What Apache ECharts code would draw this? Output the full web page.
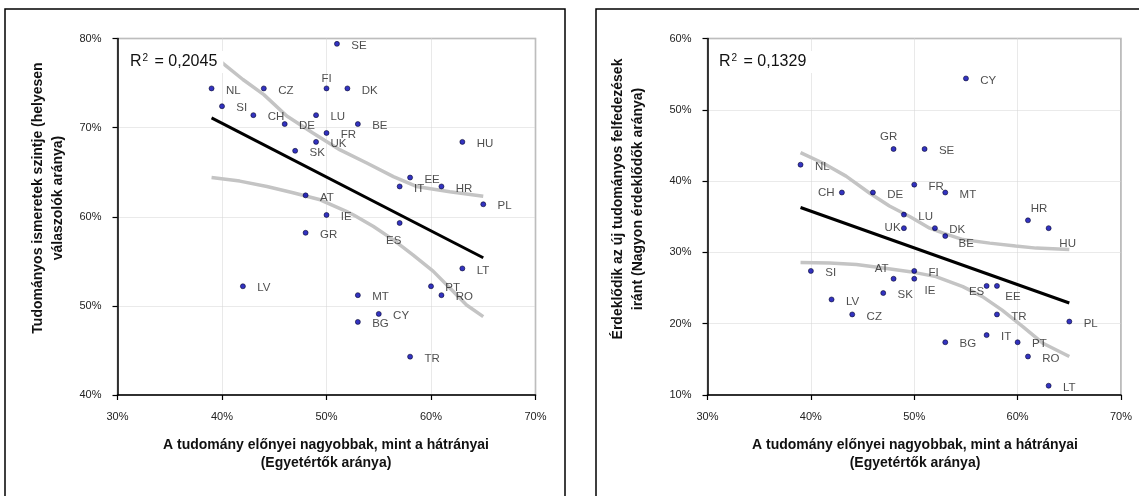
<!DOCTYPE html>
<html>
<head>
<meta charset="utf-8">
<script src="https://cdn.jsdelivr.net/npm/echarts@6/dist/echarts.min.js"></script>
<style>
html,body{margin:0;padding:0;background:#fff;}
#chart{width:1139px;height:496px;}
</style>
</head>
<body>
<div id="chart"></div>
<script>
// ---- data ----
const countries = ['SE','NL','CZ','FI','DK','SI','CH','LU','DE','BE','FR','UK','HU','SK','EE','IT','HR','PL','AT','IE','ES','GR','LT','LV','PT','MT','RO','CY','BG','TR'];
const benefits  = [51,39,44,50,52,40,43,49,46,53,50,49,63,47,58,57,61,65,48,50,57,48,63,42,60,53,61,55,53,58];
const knowledge = [79.4,74.4,74.4,74.4,74.4,72.4,71.4,71.4,70.4,70.4,69.4,68.4,68.4,67.4,64.4,63.4,63.4,61.4,62.4,60.2,59.3,58.2,54.2,52.2,52.2,51.2,51.2,49.1,48.2,44.3];
const interest  = [44.5,42.3,21.3,27.4,33.4,27.4,38.4,35.3,38.4,32.3,39.5,33.4,33.4,24.3,25.3,18.4,34.5,20.3,26.3,26.3,25.3,44.5,11.3,23.4,17.4,38.4,15.4,54.4,17.4,21.3];

const trendLeft  = [[39,71.1],[65,55.4]];
const upperLeft  = [[39,78.1],[40,77.3],[42,75.4],[44,73.7],[46.2,71.3],[48.7,69.4],[51.3,67.5],[53.9,66.0],[56.4,64.5],[58.6,63.4],[61.8,62.8],[65,62.3]];
const lowerLeft  = [[39,64.4],[41.7,64.0],[44.3,63.4],[46.8,62.7],[49.4,61.9],[51.9,60.6],[52.6,60.2],[54.5,58.9],[56.4,57.4],[58.3,55.7],[60.2,53.9],[61.8,52.0],[63.4,50.1],[65,48.8]];

const trendRight = [[39,36.3],[65,22.9]];
const upperRight = [[39,44.0],[41.2,42.5],[43.4,40.7],[45.7,38.3],[47.6,36.5],[49.6,35.0],[51.5,33.4],[52.8,32.7],[54.7,31.8],[57.3,31.3],[59.8,30.9],[61.8,30.6],[65,30.4]];
const lowerRight = [[39,28.6],[41.8,28.5],[44.4,28.3],[47,27.8],[49.6,27.3],[52.1,26.6],[54.7,25.2],[56.6,23.8],[58.5,21.9],[60.5,19.6],[62.4,17.3],[65,15.4]];

const r2Left = '0,2045';
const r2Right = '0,1329';
const xTitle = 'A tudomány előnyei nagyobbak, mint a hátrányai\n(Egyetértők aránya)';
const yTitleLeft = 'Tudományos ismeretek szintje (helyesen\nválaszolók aránya)';
const yTitleRight = 'Érdeklődik az új tudományos felfedezések\niránt (Nagyon érdeklődők aránya)';

// ---- label placement styles (not data) ----
const labelStyleLeft = { FI:['c',0,-10], ES:['c',-6,18] };
const labelStyleRight = {
  GR:['c',-5,-12], CH:['l',-7,0], HR:['c',11,-11], HU:['c',19,16], UK:['l',-3,0],
  BE:['r',13,8], AT:['c',-12,-10], IE:['r',10,12], ES:['l',-2,6], EE:['r',8,11]
};

const FONT = '"Liberation Sans", Arial, sans-serif';

function buildScatter(yvals, styles) {
  return countries.map((c, i) => {
    const s = styles[c] || ['r',14,2];
    let label;
    if (s[0] === 'r') label = {position:'right', distance:0, offset:[s[1]-2.5, s[2]]};
    else if (s[0] === 'l') label = {position:'left', distance:0, offset:[s[1]+2.5, s[2]]};
    else label = {position:'inside', offset:[s[1], s[2]], align:'center', verticalAlign:'middle'};
    return { value:[benefits[i], yvals[i]], name:c, label: label };
  });
}

const chart = echarts.init(document.getElementById('chart'));

function xAxisDef(gi) {
  return {
    type:'value', gridIndex:gi, min:30, max:70, interval:10,
    axisLine:{show:true, lineStyle:{color:'#000', width:1.5}},
    axisTick:{show:true, inside:false, length:5, lineStyle:{color:'#000', width:1.2}},
    axisLabel:{formatter:'{value}%', fontFamily:FONT, fontSize:11, color:'#222', margin:16},
    splitLine:{show:true, lineStyle:{color:'#d4d4d4', type:'dotted', width:1}}
  };
}
function yAxisDef(gi, mn, mx) {
  return {
    type:'value', gridIndex:gi, min:mn, max:mx, interval:10,
    axisLine:{show:true, lineStyle:{color:'#000', width:1.5}},
    axisTick:{show:true, inside:false, length:5, lineStyle:{color:'#000', width:1.2}},
    axisLabel:{formatter:'{value}%', fontFamily:FONT, fontSize:11, color:'#222', margin:16},
    splitLine:{show:true, lineStyle:{color:'#d4d4d4', type:'dotted', width:1}}
  };
}
function lineSeries(data, gi, color, z, w) {
  return {type:'line', xAxisIndex:gi, yAxisIndex:gi, data:data, showSymbol:false, symbol:'none',
    lineStyle:{color:color, width:w}, z:z, silent:true};
}
function scatterSeries(data, gi) {
  return {type:'scatter', xAxisIndex:gi, yAxisIndex:gi, data:data, symbol:'circle', symbolSize:5,
    itemStyle:{color:'#0000b0', borderColor:'#000022', borderWidth:0.7}, z:10,
    label:{show:true, formatter:'{b}', fontFamily:FONT, fontSize:11.5, color:'#222'}};
}

const r2Rich = {a:{fontFamily:FONT, fontSize:16, fill:'#111'}, s:{fontFamily:FONT, fontSize:10, fill:'#111', verticalAlign:'top', padding:[0,2,8,1]}};

const option = {
  animation:false,
  backgroundColor:'#fff',
  grid:[
    {left:117.5, top:38.5, width:418, height:356.5, show:true, borderColor:'#a6a6a6', borderWidth:1.5, backgroundColor:'#fff'},
    {left:707.5, top:38.5, width:413.5, height:356.5, show:true, borderColor:'#a6a6a6', borderWidth:1.5, backgroundColor:'#fff'}
  ],
  xAxis:[xAxisDef(0), xAxisDef(1)],
  yAxis:[yAxisDef(0,40,80), yAxisDef(1,10,60)],
  series:[
    lineSeries(upperLeft,0,'#c4c4c4',2,3.5),
    lineSeries(lowerLeft,0,'#c4c4c4',2,3.5),
    lineSeries(trendLeft,0,'#000',3,3),
    scatterSeries(buildScatter(knowledge, labelStyleLeft),0),
    lineSeries(upperRight,1,'#c4c4c4',2,3.5),
    lineSeries(lowerRight,1,'#c4c4c4',2,3.5),
    lineSeries(trendRight,1,'#000',3,3),
    scatterSeries(buildScatter(interest, labelStyleRight),1)
  ],
  graphic:[
    {type:'rect', shape:{x:5, y:9, width:560, height:500}, style:{fill:'none', stroke:'#000', lineWidth:1.5}, z:100},
    {type:'rect', shape:{x:596, y:9, width:600, height:500}, style:{fill:'none', stroke:'#000', lineWidth:1.5}, z:100},
    {type:'text', x:48, y:198, rotation:Math.PI/2, z:100,
      style:{text:yTitleLeft, font:'bold 14px '+FONT, fill:'#111', align:'center', verticalAlign:'middle', lineHeight:20}},
    {type:'text', x:628, y:199, rotation:Math.PI/2, z:100,
      style:{text:yTitleRight, font:'bold 14px '+FONT, fill:'#111', align:'center', verticalAlign:'middle', lineHeight:20}},
    {type:'text', x:326, y:454, z:100,
      style:{text:xTitle, font:'bold 14px '+FONT, fill:'#111', align:'center', verticalAlign:'middle', lineHeight:18}},
    {type:'text', x:915, y:454, z:100,
      style:{text:xTitle, font:'bold 14px '+FONT, fill:'#111', align:'center', verticalAlign:'middle', lineHeight:18}},
    {type:'text', x:129, y:62, z:50,
      style:{text:'{a|R}{s|2}{a| = '+r2Left+'}', verticalAlign:'middle', backgroundColor:'#fff', padding:[2,6,2,1], rich:r2Rich}},
    {type:'text', x:718, y:62, z:50,
      style:{text:'{a|R}{s|2}{a| = '+r2Right+'}', verticalAlign:'middle', backgroundColor:'#fff', padding:[2,6,2,1], rich:r2Rich}}
  ]
};
chart.setOption(option);
</script>
</body>
</html>
